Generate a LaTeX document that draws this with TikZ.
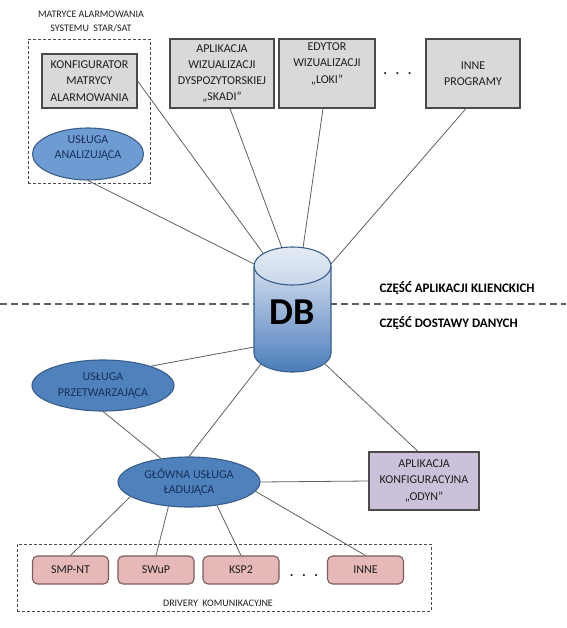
\documentclass[tikz,border=0pt]{standalone}
\usepackage{fontspec}
\setmainfont{Carlito}
\usetikzlibrary{shapes.geometric}
\definecolor{boxgray}{HTML}{D9D9D9}
\definecolor{edgegray}{HTML}{4A4A4A}
\definecolor{linegray}{HTML}{5F5F5F}
\definecolor{ellfill}{HTML}{4F81BD}
\definecolor{ellfillB}{HTML}{6F9BD3}
\definecolor{elledge}{HTML}{385D8A}
\definecolor{elltext}{HTML}{17305A}
\definecolor{purplefill}{HTML}{CCC1DA}
\definecolor{pinkfill}{HTML}{E6B9B8}
\definecolor{pinkedge}{HTML}{7A5C5C}
\definecolor{txtdark}{HTML}{1E1E1E}
\definecolor{dbtop}{HTML}{D3DEEE}
\definecolor{dbbot}{HTML}{4A7CBA}
\definecolor{captop}{HTML}{E4EBF5}
\definecolor{capbot}{HTML}{C9D7EA}
\begin{document}
\begin{tikzpicture}[x=1pt,y=1pt,
  boxtext/.style={align=center, font=\fontsize{12}{16.3}\selectfont, text=txtdark},
  graybox/.style={boxtext, draw=edgegray, line width=1.1pt, fill=boxgray, inner sep=0pt},
  ellbox/.style={ellipse, draw=elledge, line width=1.1pt, fill=ellfill, inner sep=0pt, align=center, font=\fontsize{12}{15.5}\selectfont, text=elltext},
  purplebox/.style={boxtext, draw=edgegray, line width=1.1pt, fill=purplefill, inner sep=0pt},
  drvbox/.style={boxtext, draw=pinkedge, line width=1.1pt, fill=pinkfill, rounded corners=5pt, inner sep=0pt, minimum width=76pt, minimum height=28pt},
  grpbox/.style={draw=edgegray, line width=0.9pt, dash pattern=on 3pt off 2pt, inner sep=0pt},
  conn/.style={draw=linegray, line width=0.8pt},
  smalltext/.style={align=center, font=\fontsize{10}{14}\selectfont, text=txtdark},
  parttext/.style={anchor=west, font=\fontsize{13}{14}\selectfont\bfseries, text=black},
  dotrow/.style={anchor=base, font=\fontsize{14}{14}\selectfont\bfseries, text=txtdark}
]
\useasboundingbox (0,0) rectangle (566,-628);

% separator
\coordinate (sepL) at (0,-304);
\coordinate (sepR) at (566,-304);
\draw[draw=linegray, line width=1.2pt, dash pattern=on 7pt off 4pt] (sepL) -- (sepR);

% group boxes
\node[grpbox, minimum width=122pt, minimum height=144pt] (grp1) at (89,-111) {};
\node[grpbox, minimum width=414pt, minimum height=67pt] (grp2) at (224,-577.5) {};
\node[smalltext] (grp1t) at (91,-21) {MATRYCE ALARMOWANIA\\SYSTEMU\ \ STAR/SAT};
\node[smalltext] (grp2t) at (218,-603) {DRIVERY\ \ KOMUNIKACYJNE};

% top boxes
\node[graybox, minimum width=95pt, minimum height=54pt] (konf) at (89.5,-81) {KONFIGURATOR\\MATRYCY\\ALARMOWANIA};
\node[graybox, minimum width=104pt, minimum height=69pt] (skadi) at (222,-73.5) {APLIKACJA\\WIZUALIZACJI\\DYSPOZYTORSKIEJ\\„SKADI”};
\node[graybox, minimum width=96pt, minimum height=69pt] (loki) at (327,-73.5) {EDYTOR\\WIZUALIZACJI\\„LOKI”\\\strut};
\node[graybox, minimum width=94pt, minimum height=69pt] (inne) at (473,-73.5) {INNE\\PROGRAMY};
\node[dotrow] (dotsA) at (397.5,-75) {.\hspace{8.5pt}.\hspace{8.5pt}.};

\node[ellbox, fill=ellfillB, minimum width=111pt, minimum height=52pt] (an) at (88,-154) {};
\node[align=center, font=\fontsize{12}{15}\selectfont, text=elltext] (anT) at (88,-148) {USŁUGA\\ANALIZUJĄCA};

% DB attach points
\coordinate (dbT1) at (254,-264);
\coordinate (dbT2) at (263,-253);
\coordinate (dbT3) at (282,-248);
\coordinate (dbT4) at (303,-248);
\coordinate (dbT5) at (331,-264);
\coordinate (dbL) at (254,-347);
\coordinate (dbB1) at (261,-364);
\coordinate (dbB2) at (324,-363);

% lower nodes
\node[ellbox, minimum width=142pt, minimum height=51pt] (prz) at (103,-385.5) {USŁUGA\\PRZETWARZAJĄCA};
\node[ellbox, minimum width=142pt, minimum height=50pt] (gl) at (189,-482) {GŁÓWNA USŁUGA\\ŁADUJĄCA};
\node[purplebox, minimum width=110pt, minimum height=58pt] (odyn) at (424,-481) {APLIKACJA\\KONFIGURACYJNA\\„ODYN”};

\node[drvbox] (smp) at (70.5,-570) {SMP-NT};
\node[drvbox] (swup) at (156,-570) {SWuP};
\node[drvbox] (ksp) at (241,-570) {KSP2};
\node[drvbox] (inne2) at (365.5,-570) {INNE};
\node[dotrow] (dotsB) at (304,-576) {.\hspace{8.5pt}.\hspace{8.5pt}.};

% connectors
\draw[conn] (an.south) -- (dbT1);
\draw[conn] (konf.east) -- (dbT2);
\draw[conn] ([xshift=8pt]skadi.south) -- (dbT3);
\draw[conn] ([xshift=-4pt]loki.south) -- (dbT4);
\draw[conn] ([xshift=-7pt]inne.south) -- (dbT5);
\draw[conn] (dbL) -- (prz.22);
\draw[conn] (dbB1) -- (gl.north);
\draw[conn] (dbB2) -- ([xshift=-6pt]odyn.north);
\draw[conn] (prz.south) -- (gl.140);
\draw[conn] (gl.east) -- (odyn.west);
\draw[conn] (gl.194) -- (smp.north);
\draw[conn] (gl.230) -- (swup.north);
\draw[conn] (gl.320) -- (ksp.north);
\draw[conn] (gl.352) -- (inne2.north);

% DB cylinder
\shade[top color=dbtop, bottom color=dbbot] (254,-266) -- (254,-353) arc[start angle=180, end angle=360, x radius=38.5pt, y radius=19pt] -- (331,-266) -- cycle;
\draw[draw=elledge, line width=1.1pt] (254,-266) -- (254,-353) arc[start angle=180, end angle=360, x radius=38.5pt, y radius=19pt] -- (331,-266);
\shade[top color=captop, bottom color=capbot] (292.5,-266) ellipse[x radius=38.5pt, y radius=19pt];
\draw[draw=elledge, line width=1.1pt] (292.5,-266) ellipse[x radius=38.5pt, y radius=19pt];
\node[font=\fontsize{38}{38}\selectfont\bfseries, text=black] (db) at (292.5,-312) {DB};

% part labels
\node[parttext] (cz1) at (376,-288) {CZĘŚĆ APLIKACJI KLIENCKICH};
\node[parttext] (cz2) at (376,-323) {CZĘŚĆ DOSTAWY DANYCH};
\end{tikzpicture}
\end{document}
